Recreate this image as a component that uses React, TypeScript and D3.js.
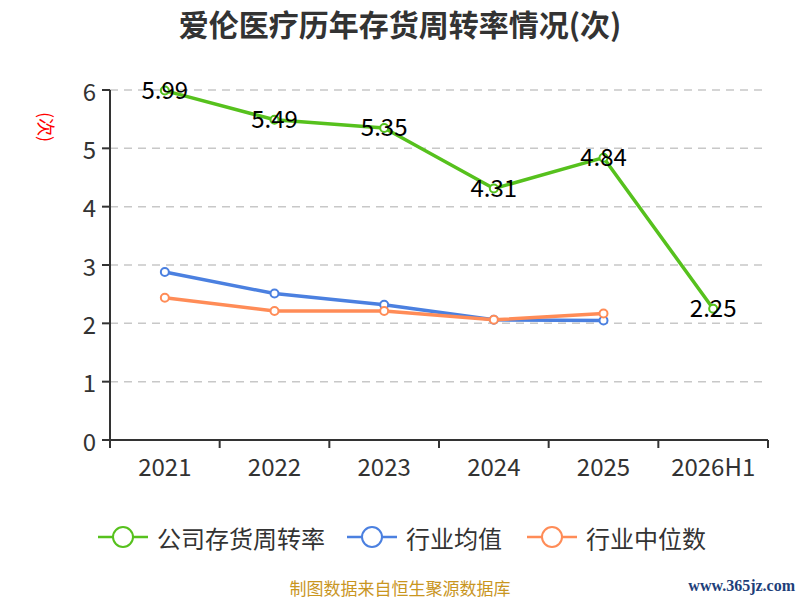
import React from 'react';
import * as d3 from 'd3';

const categories = ['2021', '2022', '2023', '2024', '2025', '2026H1'];
const companyValues = [5.99, 5.49, 5.35, 4.31, 4.84, 2.25];
const industryAvg = [2.88, 2.51, 2.32, 2.06, 2.05];
const industryMedian = [2.44, 2.21, 2.21, 2.06, 2.17];
const yTicks = [0, 1, 2, 3, 4, 5, 6];

const GREEN = '#56c11d';
const BLUE = '#4b80e0';
const ORANGE = '#ff8c57';
const FONT = '"Noto Sans CJK SC", "Noto Sans", sans-serif';

const margin = { top: 90, right: 32, bottom: 160, left: 110 };
const W = 800;
const H = 600;

export default function App() {
  const innerW = W - margin.left - margin.right;
  const innerH = H - margin.top - margin.bottom;

  const x = d3.scaleBand().domain(categories).range([0, innerW]);
  const y = d3.scaleLinear().domain([0, 6]).range([innerH, 0]);
  const cx = (i: number) => (x(categories[i]) || 0) + x.bandwidth() / 2;

  const line = d3.line<number>().x((_, i) => cx(i)).y(d => y(d));

  const series = [
    { name: '公司存货周转率', color: GREEN, values: companyValues },
    { name: '行业均值', color: BLUE, values: industryAvg },
    { name: '行业中位数', color: ORANGE, values: industryMedian },
  ];

  const legendX = [98, 347, 527];

  return (
    <svg width={W} height={H} style={{ position: 'absolute', left: 0, top: 0, fontFamily: FONT }}>
      <rect width={W} height={H} fill="#fff" />
      <text x={400} y={23} textAnchor="middle" dominantBaseline="central" fontSize={30} fontWeight="bold" fill="#333">
        爱伦医疗历年存货周转率情况(次)
      </text>
      <text transform="translate(47,127) rotate(90)" textAnchor="middle" dominantBaseline="central" fontSize={18} fill="#ff0000">
        (次)
      </text>
      <g transform={`translate(${margin.left},${margin.top})`}>
        {yTicks.map(t => (
          <g key={t}>
            {t > 0 && (
              <line x1={0} x2={innerW} y1={y(t)} y2={y(t)} stroke="#c8c8c8" strokeWidth={1.5} strokeDasharray="8,6" />
            )}
            <line x1={-8} x2={0} y1={y(t)} y2={y(t)} stroke="#333" strokeWidth={2} />
            <text x={-14} y={y(t)} textAnchor="end" dominantBaseline="central" fontSize={24} fill="#333">
              {t}
            </text>
          </g>
        ))}
        <line x1={0} x2={0} y1={0} y2={innerH} stroke="#333" strokeWidth={2} />
        <line x1={0} x2={innerW} y1={innerH} y2={innerH} stroke="#333" strokeWidth={2} />
        {d3.range(categories.length + 1).map(i => (
          <line key={i} x1={i * x.bandwidth()} x2={i * x.bandwidth()} y1={innerH} y2={innerH + 8} stroke="#333" strokeWidth={2} />
        ))}
        {categories.map((c, i) => (
          <text key={c} x={cx(i)} y={innerH + 25} textAnchor="middle" dominantBaseline="central" fontSize={24} fill="#333">
            {c}
          </text>
        ))}
        {series.map(s => (
          <g key={s.name}>
            <path d={line(s.values) || ''} fill="none" stroke={s.color} strokeWidth={3.5} strokeLinejoin="round" />
            {s.values.map((v, i) => (
              <circle key={i} cx={cx(i)} cy={y(v)} r={4} fill="#fff" stroke={s.color} strokeWidth={2} />
            ))}
          </g>
        ))}
        {companyValues.map((v, i) => (
          <text key={i} x={cx(i)} y={y(v) - 2} textAnchor="middle" dominantBaseline="central" fontSize={24} fill="#000">
            {v.toFixed(2)}
          </text>
        ))}
      </g>
      {series.map((s, i) => (
        <g key={s.name} transform={`translate(${legendX[i]},537)`}>
          <line x1={0} x2={50} y1={0} y2={0} stroke={s.color} strokeWidth={2.5} />
          <circle cx={25} cy={0} r={10} fill="#fff" stroke={s.color} strokeWidth={2} />
          <text x={59} y={0} dominantBaseline="central" fontSize={24} fill="#333">
            {s.name}
          </text>
        </g>
      ))}
      <text x={400} y={587} textAnchor="middle" dominantBaseline="central" fontSize={17} fill="#c9961f">
        制图数据来自恒生聚源数据库
      </text>
      <text x={795} y={585} textAnchor="end" dominantBaseline="central" fontSize={16} fontWeight="bold" fill="#1e3f7a" fontFamily='"Liberation Serif", serif'>
        www.365jz.com
      </text>
    </svg>
  );
}
